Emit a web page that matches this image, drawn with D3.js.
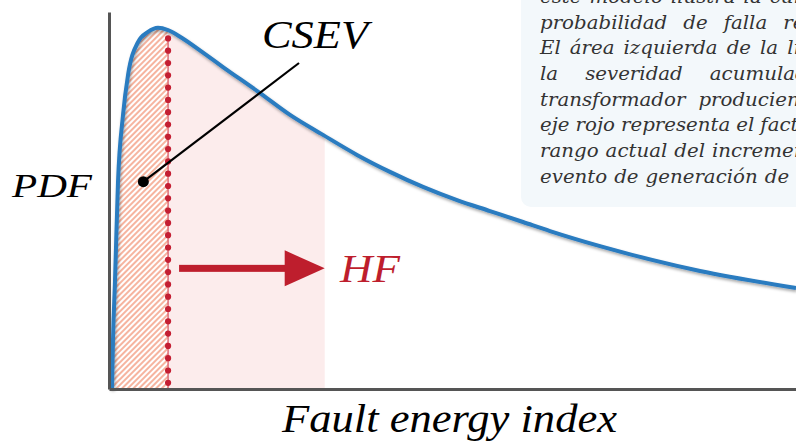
<!DOCTYPE html>
<html>
<head>
<meta charset="utf-8">
<script src="https://cdn.jsdelivr.net/npm/d3@7"></script>
<style>
  body { margin: 0; background: #fff; }
  svg { display: block; }
</style>
</head>
<body>
<svg id="chart" width="796" height="443"></svg>
<script>
// curva PDF (indice de energia de falla, densidad relativa)
const energy = [0.044, 0.058, 0.087, 0.131, 0.204, 0.277, 0.422, 0.568, 0.713, 0.859, 1.063, 1.354, 1.659, 2.198, 2.635, 3.115, 3.610, 4.090, 4.571, 5.066, 5.546, 6.026, 6.419, 7.147, 8.603, 10.0];
const density = [0.000, 0.130, 0.284, 0.549, 0.727, 0.833, 0.920, 0.947, 0.958, 0.952, 0.931, 0.894, 0.854, 0.785, 0.727, 0.674, 0.621, 0.576, 0.536, 0.501, 0.472, 0.443, 0.419, 0.379, 0.313, 0.268];

// limites de las zonas sombreadas
const csevLimit = 0.86;
const hfLimit = 3.14;
const arrowStart = 1.02;
const arrowLevel = 0.32;

const labels = { x: "Fault energy index", y: "PDF", csev: "CSEV", hf: "HF" };

// texto del recuadro (recortado por el borde de la figura)
const noteLines = [
  "este modelo ilustra la curva de densidad",
  "probabilidad de falla relativa al índice.",
  "El área izquierda de la línea punteada es",
  "la severidad acumulada del evento en el",
  "transformador produciendo la CSEV. El",
  "eje rojo representa el factor HF, el",
  "rango actual del incremento de energía del",
  "evento de generación de gases."
];
// espacio entre palabras de cada linea justificada (px)
const noteGaps = [8, 16, 9, 27, 13, 6, 7, 7];

const svg = d3.select("#chart");
const width = 796, height = 443;
const margin = { left: 109, right: 0, top: 12, bottom: 54 };

const x = d3.scaleLinear().domain([0, 10]).range([margin.left, width]);
const y = d3.scaleLinear().domain([0, 1]).range([height - margin.bottom, margin.top]);

const pts = energy.map((e, i) => [e, density[i]]);

const defs = svg.append("defs");

// rayado diagonal de la zona CSEV
const hatch = defs.append("pattern")
  .attr("id", "hatch")
  .attr("patternUnits", "userSpaceOnUse")
  .attr("width", 4).attr("height", 4)
  .attr("patternTransform", "rotate(45)");
hatch.append("rect").attr("width", 4).attr("height", 4).attr("fill", "#fff");
hatch.append("line")
  .attr("x1", 1).attr("y1", 0).attr("x2", 1).attr("y2", 4)
  .attr("stroke", "#f0825f").attr("stroke-width", 1.2);

const shadow = defs.append("filter").attr("id", "shadow")
  .attr("x", "-10%").attr("y", "-10%").attr("width", "120%").attr("height", "130%");
shadow.append("feDropShadow")
  .attr("dx", 1).attr("dy", 2).attr("stdDeviation", 1.6)
  .attr("flood-color", "#000").attr("flood-opacity", 0.35);

defs.append("clipPath").attr("id", "clip-csev")
  .append("rect")
  .attr("x", x(0)).attr("y", 0)
  .attr("width", x(csevLimit) - x(0)).attr("height", height);
defs.append("clipPath").attr("id", "clip-hf")
  .append("rect")
  .attr("x", x(csevLimit)).attr("y", 0)
  .attr("width", x(hfLimit) - x(csevLimit)).attr("height", height);

const area = d3.area()
  .x(d => x(d[0]))
  .y0(y(0))
  .y1(d => y(d[1]))
  .curve(d3.curveMonotoneX);

const line = d3.line()
  .x(d => x(d[0]))
  .y(d => y(d[1]))
  .curve(d3.curveMonotoneX);

// zona rosada (HF)
svg.append("path")
  .datum(pts)
  .attr("d", area)
  .attr("fill", "#fcecec")
  .attr("clip-path", "url(#clip-hf)");

// zona rayada (CSEV)
svg.append("path")
  .datum(pts)
  .attr("d", area)
  .attr("fill", "url(#hatch)")
  .attr("clip-path", "url(#clip-csev)");

// recuadro de texto
const note = svg.append("g");
note.append("rect")
  .attr("x", 521).attr("y", -20)
  .attr("width", 340).attr("height", 227)
  .attr("rx", 10)
  .attr("fill", "#f3f8fb");

// la fuente de la figura es mas ancha: se estira en horizontal
const sx = 1.1;
const noteText = note.append("g")
  .attr("transform", `translate(540,0) scale(${sx},1)`)
  .attr("font-family", "DejaVu Serif")
  .attr("font-style", "italic")
  .attr("font-size", 18)
  .attr("fill", "#333");

noteLines.forEach((txt, i) => {
  const words = txt.split(" ");
  const baseY = 3 + i * 25.7;
  const nodes = words.map(w => noteText.append("text").attr("y", baseY).text(w));
  let cx = 0;
  nodes.forEach(n => {
    n.attr("x", cx);
    cx += n.node().getComputedTextLength() + noteGaps[i] / sx;
  });
});

// curva principal
svg.append("path")
  .datum(pts)
  .attr("d", line)
  .attr("fill", "none")
  .attr("stroke", "#2a7bc0")
  .attr("stroke-width", 4)
  .attr("stroke-linejoin", "round")
  .attr("filter", "url(#shadow)");

// linea punteada del limite CSEV
const yTop = y(0.93);
svg.append("line")
  .attr("x1", x(csevLimit)).attr("x2", x(csevLimit))
  .attr("y1", yTop).attr("y2", y(0))
  .attr("stroke", "#dc6470").attr("stroke-width", 1.4);
svg.append("line")
  .attr("x1", x(csevLimit)).attr("x2", x(csevLimit))
  .attr("y1", yTop).attr("y2", y(0))
  .attr("stroke", "#c41f33").attr("stroke-width", 6.2)
  .attr("stroke-linecap", "round")
  .attr("stroke-dasharray", "0 12.3");

// ejes sin marcas
svg.append("g")
  .attr("transform", `translate(0,${y(0)})`)
  .call(d3.axisBottom(x).ticks(0).tickSizeOuter(0))
  .call(g => g.select(".domain").attr("stroke", "#555").attr("stroke-width", 3));
svg.append("g")
  .attr("transform", `translate(${x(0)},0)`)
  .call(d3.axisLeft(y).ticks(0).tickSizeOuter(0))
  .call(g => g.select(".domain").attr("stroke", "#555").attr("stroke-width", 3));

// flecha HF
const ay = y(arrowLevel);
const headLen = 40, headHalf = 18;
svg.append("rect")
  .attr("x", x(arrowStart)).attr("y", ay - 3.5)
  .attr("width", x(hfLimit) - headLen - x(arrowStart) + 2).attr("height", 7)
  .attr("fill", "#be1e2d");
svg.append("path")
  .attr("d", `M${x(hfLimit)},${ay} L${x(hfLimit) - headLen},${ay - headHalf} L${x(hfLimit) - headLen},${ay + headHalf} Z`)
  .attr("fill", "#be1e2d");

// etiqueta CSEV con linea guia
svg.append("line")
  .attr("x1", 299).attr("y1", 63)
  .attr("x2", x(0.5)).attr("y2", y(0.55))
  .attr("stroke", "#000").attr("stroke-width", 2.2);
svg.append("circle")
  .attr("cx", x(0.5)).attr("cy", y(0.55)).attr("r", 5.5)
  .attr("fill", "#000");

const serif = "Liberation Serif";
function label(txt, px, py, size, len, color) {
  svg.append("text")
    .attr("x", px).attr("y", py)
    .attr("font-family", serif)
    .attr("font-style", "italic")
    .attr("font-size", size)
    .attr("fill", color)
    .attr("textLength", len)
    .attr("lengthAdjust", "spacingAndGlyphs")
    .text(txt);
}
label(labels.csev, 262, 48, 40, 106, "#000");
label(labels.hf, 340, 282, 40, 60, "#be1e2d");
label(labels.y, 12, 197, 33, 80, "#000");
label(labels.x, 282, 432, 40, 335, "#000");
</script>
</body>
</html>
